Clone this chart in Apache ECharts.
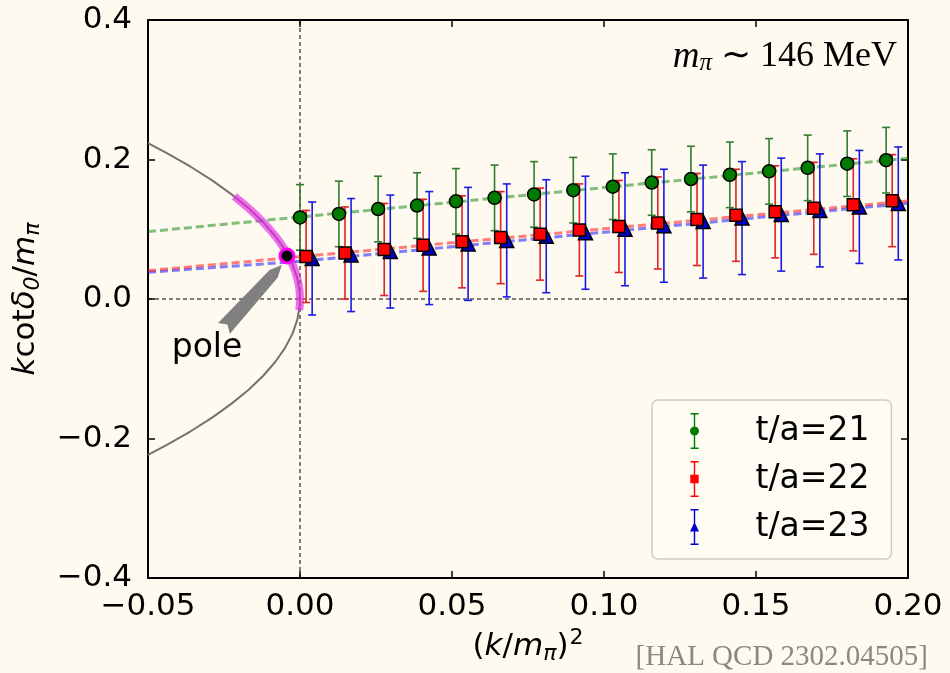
<!DOCTYPE html>
<html><head><meta charset="utf-8">
<script src="https://cdn.jsdelivr.net/npm/echarts@6/dist/echarts.min.js"></script>
<style>html,body{margin:0;padding:0;background:#fffaf0;}#c{width:950px;height:673px;}</style>
</head><body><div id="c"></div>
<script>
// ---- data ----
const xTickLabels = ['\u22120.05', '0.00', '0.05', '0.10', '0.15', '0.20'];
const yTickLabels = ['\u22120.4', '\u22120.2', '0.0', '0.2', '0.4'];

const x21 = [0.0000, 0.0128, 0.0257, 0.0385, 0.0513, 0.0640, 0.0770, 0.0899, 0.1029, 0.1157, 0.1286, 0.1414, 0.1543, 0.1670, 0.1800, 0.1928];
const y21 = [0.117, 0.122, 0.129, 0.134, 0.140, 0.145, 0.150, 0.156, 0.161, 0.167, 0.172, 0.178, 0.183, 0.188, 0.194, 0.199];
const e21 = [0.047, 0.047, 0.047, 0.047, 0.047, 0.047, 0.047, 0.047, 0.047, 0.047, 0.047, 0.047, 0.047, 0.047, 0.047, 0.047];

const x22 = [0.0020, 0.0148, 0.0277, 0.0405, 0.0533, 0.0660, 0.0790, 0.0919, 0.1049, 0.1177, 0.1306, 0.1434, 0.1563, 0.1690, 0.1820, 0.1948];
const y22 = [0.061, 0.066, 0.071, 0.077, 0.082, 0.088, 0.093, 0.099, 0.104, 0.109, 0.114, 0.120, 0.125, 0.130, 0.135, 0.141];
const e22 = [0.066, 0.066, 0.066, 0.066, 0.066, 0.066, 0.066, 0.066, 0.066, 0.066, 0.066, 0.066, 0.066, 0.066, 0.066, 0.066];

const x23 = [0.0040, 0.0168, 0.0297, 0.0425, 0.0553, 0.0680, 0.0810, 0.0939, 0.1069, 0.1197, 0.1326, 0.1454, 0.1583, 0.1710, 0.1840, 0.1968];
const y23 = [0.058, 0.063, 0.068, 0.073, 0.079, 0.084, 0.090, 0.095, 0.100, 0.105, 0.111, 0.116, 0.121, 0.127, 0.132, 0.137];
const e23 = [0.081, 0.081, 0.081, 0.081, 0.081, 0.081, 0.081, 0.081, 0.081, 0.081, 0.081, 0.081, 0.081, 0.081, 0.081, 0.081];

// fit lines (read at the plot edges and at k^2 = 0)
const fitX   = [-0.05, 0.0, 0.2];
const fit21  = [0.0966, 0.1176, 0.2018];
const fit22  = [0.0406, 0.0606, 0.1406];
const fit23  = [0.0383, 0.0541, 0.1373];

// gray bound-state curve
const curveX = [-0.0500, -0.0441, -0.0361, -0.0289, -0.0225, -0.0169, -0.0121, -0.0081, -0.0049, -0.0025, -0.0009, -0.0001, 0.0000, -0.0001, -0.0009, -0.0025, -0.0049, -0.0081, -0.0121, -0.0169, -0.0225, -0.0289, -0.0361, -0.0441, -0.0500];
const curveY = [0.2236, 0.21, 0.19, 0.17, 0.15, 0.13, 0.11, 0.09, 0.07, 0.05, 0.03, 0.01, 0.0, -0.01, -0.03, -0.05, -0.07, -0.09, -0.11, -0.13, -0.15, -0.17, -0.19, -0.21, -0.2236];

// magenta band (pole uncertainty along the curve)
const bandX = [-0.0216, -0.0196, -0.0169, -0.0144, -0.0121, -0.0100, -0.0081, -0.0064, -0.0049, -0.0036, -0.0025, -0.0016, -0.0009, -0.0004, -0.0001, 0.0000, -0.0001, -0.00026];
const bandY = [0.147, 0.14, 0.13, 0.12, 0.11, 0.10, 0.09, 0.08, 0.07, 0.06, 0.05, 0.04, 0.03, 0.02, 0.01, 0.0, -0.01, -0.016];

const poleX = [-0.0043];
const poleY = [0.0617];

// arrow: tail (x,y) -> tip (x,y)
const arrowTail = [-0.0250, -0.0420];
const arrowTip  = [-0.0060, 0.0488];

const zeroLineV = [[0, -0.4], [0, 0.4]];
const zeroLineH = [[-0.05, 0], [0.2, 0]];

const seriesNames = ['t/a=21', 't/a=22', 't/a=23'];

// ---- chart ----
const zip = (xs, ys) => xs.map((x, i) => [x, ys[i]]);
const FONT = 'DejaVu Sans';

function errSeries(xs, ys, es, color, z) {
  return {
    type: 'custom', name: 'err' + z, z: z, silent: true,
    data: xs.map((x, i) => [x, ys[i], es[i]]),
    encode: { x: 0, y: 1 },
    renderItem: function (params, api) {
      const x = api.value(0), y = api.value(1), e = api.value(2);
      const t = api.coord([x, y + e]), b = api.coord([x, y - e]);
      const cw = 4, st = { stroke: color, lineWidth: 1.6 };
      return { type: 'group', children: [
        { type: 'line', shape: { x1: t[0], y1: t[1], x2: b[0], y2: b[1] }, style: st },
        { type: 'line', shape: { x1: t[0] - cw, y1: t[1], x2: t[0] + cw, y2: t[1] }, style: st },
        { type: 'line', shape: { x1: b[0] - cw, y1: b[1], x2: b[0] + cw, y2: b[1] }, style: st }
      ] };
    }
  };
}

function fitSeries(ys, color, z) {
  return { type: 'line', data: zip(fitX, ys), symbol: 'none', silent: true, z: z,
    lineStyle: { color: color, width: 3, type: [8, 4] } };
}

const chart = echarts.init(document.getElementById('c'), null, { renderer: 'canvas' });

const axisCommon = {
  type: 'value',
  axisLine: { show: true, onZero: false, lineStyle: { color: '#000', width: 2 } },
  axisTick: { show: true, inside: true, length: 7, lineStyle: { color: '#000', width: 1.5 } },
  splitLine: { show: false }
};

const iconBar = 'M5.3,0H6.7V36H5.3Z M2,0H10V1.4H2Z M2,34.6H10V36H2Z ';
const legendIcons = [
  'path://' + iconBar + 'M1.5,18A4.5,4.5 0 1 1 10.5,18A4.5,4.5 0 1 1 1.5,18Z',
  'path://' + iconBar + 'M1.8,13.8H10.2V22.2H1.8Z',
  'path://' + iconBar + 'M6,13L10.5,22.5H1.5Z'
];

const option = {
  backgroundColor: '#fffaf0',
  animation: false,
  grid: { left: 148, right: 42, top: 20, bottom: 95 },
  xAxis: [
    Object.assign({}, axisCommon, {
      min: -0.05, max: 0.2, interval: 0.05, position: 'bottom',
      axisLabel: { fontSize: 31, fontFamily: FONT, color: '#000', margin: 13,
        formatter: v => xTickLabels[Math.round((v + 0.05) / 0.05)] },
      name: '{n|(}{i|k}{n|/}{i|m}{s|\u03c0}{n|)}{p|2}', nameLocation: 'middle', nameGap: 25,
      nameTextStyle: { rich: {
        n: { fontSize: 31, fontFamily: FONT, color: '#000', lineHeight: 40 },
        i: { fontSize: 31, fontFamily: FONT, fontStyle: 'italic', color: '#000', lineHeight: 40 },
        s: { fontSize: 22, fontFamily: FONT, fontStyle: 'italic', color: '#000', lineHeight: 22, verticalAlign: 'bottom', padding: [0, 0, 2, 0] },
        p: { fontSize: 22, fontFamily: FONT, color: '#000', lineHeight: 22, verticalAlign: 'top', padding: [0, 0, 0, 1] }
      } }
    }),
    Object.assign({}, axisCommon, {
      min: -0.05, max: 0.2, interval: 0.05, position: 'top', axisLabel: { show: false }
    })
  ],
  yAxis: [
    Object.assign({}, axisCommon, {
      min: -0.4, max: 0.4, interval: 0.2, position: 'left',
      axisLabel: { fontSize: 31, fontFamily: FONT, color: '#000', margin: 16,
        formatter: v => yTickLabels[Math.round((v + 0.4) / 0.2)] },
      name: '{i|k}{n|cot}{i|\u03b4}{s|0}{n|/}{i|m}{s|\u03c0}', nameLocation: 'middle', nameGap: 95, nameRotate: 90,
      nameTextStyle: { rich: {
        n: { fontSize: 31, fontFamily: FONT, color: '#000', lineHeight: 40 },
        i: { fontSize: 31, fontFamily: FONT, fontStyle: 'italic', color: '#000', lineHeight: 40 },
        s: { fontSize: 22, fontFamily: FONT, fontStyle: 'italic', color: '#000', lineHeight: 22, verticalAlign: 'bottom', padding: [0, 0, 2, 0] }
      } }
    }),
    Object.assign({}, axisCommon, {
      min: -0.4, max: 0.4, interval: 0.2, position: 'right', axisLabel: { show: false }
    })
  ],
  legend: {
    left: 652, top: 400, orient: 'vertical',
    data: seriesNames.map((n, i) => ({ name: n, icon: legendIcons[i] })),
    itemWidth: 12, itemHeight: 36, itemGap: 12,
    padding: [13, 22, 14, 38],
    backgroundColor: 'rgba(255,251,243,0.85)', borderColor: '#cccccc', borderWidth: 1.5, borderRadius: 6,
    itemStyle: { borderWidth: 0 },
    textStyle: { fontSize: 33, fontFamily: FONT, color: '#000', padding: [0, 0, 0, 50], lineHeight: 36 },
    selectedMode: false
  },
  graphic: [
    { type: 'text', x: 897, y: 57, z: 100, style: {
      text: '{i|m}{s|\u03c0}{n| \u223c 146 MeV}', align: 'right', verticalAlign: 'middle',
      rich: {
        i: { fontSize: 37, fontFamily: 'Liberation Serif', fontStyle: 'italic', fill: '#000', lineHeight: 42 },
        s: { fontSize: 25, fontFamily: 'Liberation Serif', fontStyle: 'italic', fill: '#000', lineHeight: 25, verticalAlign: 'bottom', padding: [0, 0, 2, 0] },
        n: { fontSize: 36, fontFamily: 'Liberation Serif', fill: '#000', lineHeight: 42 }
      } } },
    { type: 'text', x: 928, y: 657, z: 100, style: {
      text: '[HAL QCD 2302.04505]', font: '29px "Liberation Serif"', fill: '#888888', align: 'right', verticalAlign: 'middle' } },
    { type: 'text', x: 207, y: 348, z: 100, style: {
      text: 'pole', font: '33px "DejaVu Sans"', fill: '#000', align: 'center', verticalAlign: 'middle' } }
  ],
  series: [
    { type: 'line', data: zeroLineV, symbol: 'none', silent: true, z: 1, lineStyle: { color: '#000', width: 1, type: [4, 3] } },
    { type: 'line', data: zeroLineH, symbol: 'none', silent: true, z: 1, lineStyle: { color: '#000', width: 1, type: [4, 3] } },
    { type: 'line', data: zip(curveX, curveY), symbol: 'none', silent: true, z: 2, lineStyle: { color: '#737373', width: 2 } },
    fitSeries(fit21, 'rgba(0,128,0,0.5)', 3),
    fitSeries(fit23, 'rgba(0,0,255,0.5)', 3),
    fitSeries(fit22, 'rgba(255,0,0,0.5)', 3),
    { type: 'line', data: zip(bandX, bandY), symbol: 'none', silent: true, z: 4,
      lineStyle: { color: 'rgba(230,40,230,0.65)', width: 8, cap: 'butt' } },
    errSeries(x21, y21, e21, '#2f7d2f', 5),
    errSeries(x23, y23, e23, '#1a1ae0', 5),
    errSeries(x22, y22, e22, '#e02424', 5),
    { type: 'scatter', name: seriesNames[0], data: zip(x21, y21), symbol: 'circle', symbolSize: 13, z: 6,
      itemStyle: { color: '#007a00', borderColor: '#000', borderWidth: 1.5, opacity: 1 } },
    { type: 'scatter', name: seriesNames[2], data: zip(x23, y23), symbol: 'triangle', symbolSize: 14, z: 6,
      itemStyle: { color: '#0000cc', borderColor: '#000', borderWidth: 1.5, opacity: 1 } },
    { type: 'scatter', name: seriesNames[1], data: zip(x22, y22), symbol: 'rect', symbolSize: 12, z: 7,
      itemStyle: { color: '#ff0000', borderColor: '#000', borderWidth: 1.5, opacity: 1 } },
    { type: 'scatter', data: zip(poleX, poleY), symbol: 'circle', symbolSize: 14, z: 8, silent: true,
      itemStyle: { color: '#000', borderColor: '#ff00ff', borderWidth: 3, opacity: 1 } },
    { type: 'custom', z: 8, silent: true, data: [[arrowTail[0], arrowTail[1], arrowTip[0], arrowTip[1]]],
      encode: { x: [0, 2], y: [1, 3] },
      renderItem: function (params, api) {
        const t = api.coord([api.value(0), api.value(1)]);
        const h = api.coord([api.value(2), api.value(3)]);
        const dx = h[0] - t[0], dy = h[1] - t[1], L = Math.hypot(dx, dy);
        const ux = dx / L, uy = dy / L, nx = -uy, ny = ux;
        const P = (a, b) => [t[0] + ux * a + nx * b, t[1] + uy * a + ny * b];
        return { type: 'polygon', shape: { points: [P(L, 0), P(L - 12, 5.5), P(0, 8), P(5, 0), P(0, -8), P(L - 12, -5.5)] },
          style: { fill: '#808080' } };
      } }
  ]
};
chart.setOption(option);
</script></body></html>
